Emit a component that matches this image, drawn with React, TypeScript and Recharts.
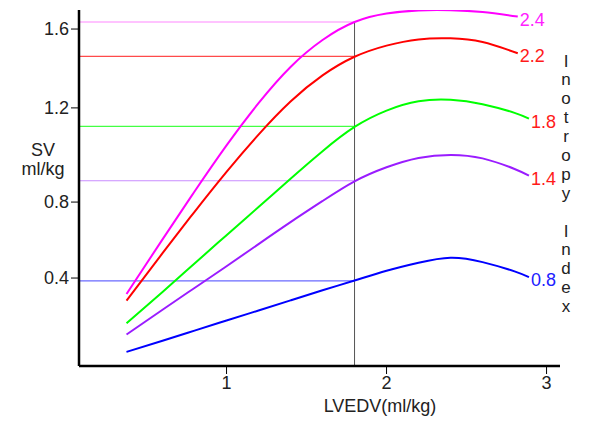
import { LineChart, Line, XAxis, YAxis, ReferenceLine } from 'recharts';

// inotropy index of each curve, lowest first
const inotropy = ['0.8', '1.4', '1.8', '2.2', '2.4'];
const curveColors = ['#0000ff', '#9a1cff', '#00ff00', '#ff0000', '#ff00ff'];
const guideColors = ['#6a6aff', '#c98cff', '#44ff44', '#ff4a4a', '#ff88ff'];
const labelColors = ['#2020ff', '#ff1a1a', '#ff1a1a', '#ff1a1a', '#ff22ff'];

// LVEDV samples (ml/kg)
const lvedvLong = [0.375, 0.6, 0.8, 1.0, 1.2, 1.4, 1.6, 1.8, 2.0, 2.2, 2.4, 2.6, 2.8, 2.89];
const lvedvShort = [0.375, 0.6, 0.8, 1.0, 1.2, 1.4, 1.6, 1.8, 2.0, 2.2, 2.4, 2.6, 2.82];

// SV (ml/kg) per curve
const sv08 = [0.048, 0.102, 0.151, 0.2, 0.248, 0.297, 0.346, 0.393, 0.44, 0.479, 0.503, 0.482, 0.437, 0.409];
const sv14 = [0.132, 0.252, 0.357, 0.462, 0.569, 0.675, 0.777, 0.872, 0.94, 0.985, 1.0, 0.983, 0.932, 0.9];
const sv18 = [0.186, 0.338, 0.475, 0.612, 0.748, 0.885, 1.018, 1.135, 1.214, 1.259, 1.266, 1.245, 1.203, 1.175];
const sv22 = [0.296, 0.525, 0.725, 0.918, 1.098, 1.258, 1.384, 1.474, 1.528, 1.558, 1.563, 1.545, 1.491];
const sv24 = [0.328, 0.592, 0.823, 1.046, 1.25, 1.425, 1.555, 1.642, 1.683, 1.698, 1.699, 1.69, 1.668];

// SV where each curve crosses LVEDV = 1.8
const svAtMark = [0.391, 0.875, 1.138, 1.476, 1.642];
const lvedvMark = 1.8;

const xDomain = [0.078, 3.084];
const yDomain = [-0.02, 1.7];
const xTicks = [1, 2, 3];
// the printed y scale is uneven; ticks sit where the labels are drawn
const yTickAt = [0.405, 0.772, 1.227, 1.608];
const yTickLabels = ['0.4', '0.8', '1.2', '1.6'];

const axisLabel = 'LVEDV(ml/kg)';
const yTitle = ['SV', 'ml/kg'];
const sideTitle = ['I', 'n', 'o', 't', 'r', 'o', 'p', 'y', '', 'I', 'n', 'd', 'e', 'x'];

const font = 'Arial, "Liberation Sans", sans-serif';

const series = [sv08, sv14, sv18, sv22, sv24].map((vals) => {
  const xs = vals.length === lvedvLong.length ? lvedvLong : lvedvShort;
  return vals.map((y, i) => ({ x: xs[i], y }));
});

function endLabel(idx: number, count: number) {
  return (props: any) => {
    if (props.index !== count - 1) return null;
    return (
      <text
        x={props.x + 2}
        y={props.y + 3}
        dominantBaseline="central"
        fontSize={18}
        fontFamily={font}
        fill={labelColors[idx]}
      >
        {inotropy[idx]}
      </text>
    );
  };
}

export default function App() {
  return (
    <div style={{ position: 'absolute', left: 0, top: 0, width: 600, height: 428, background: '#fff' }}>
      <LineChart
        width={600}
        height={428}
        margin={{ top: 10, right: 40, bottom: 0, left: 0 }}
      >
        <XAxis
          type="number"
          dataKey="x"
          domain={xDomain}
          ticks={xTicks}
          allowDataOverflow
          height={62}
          tickSize={8}
          axisLine={{ stroke: '#000', strokeWidth: 2.5 }}
          tickLine={{ stroke: '#000', strokeWidth: 1 }}
          tick={{ fontSize: 18, fill: '#222', fontFamily: font }}
        />
        <YAxis
          type="number"
          domain={yDomain}
          ticks={yTickAt}
          allowDataOverflow
          width={79}
          tickSize={8}
          axisLine={{ stroke: '#000', strokeWidth: 2.5 }}
          tickLine={{ stroke: '#000', strokeWidth: 1 }}
          tick={{ fontSize: 18, fill: '#222', fontFamily: font }}
          tickFormatter={(v) => yTickLabels[yTickAt.indexOf(v)] ?? ''}
        />

        {svAtMark.map((y, i) => (
          <ReferenceLine
            key={'g' + i}
            segment={[{ x: xDomain[0], y }, { x: lvedvMark, y }]}
            stroke={guideColors[i]}
            strokeWidth={1.2}
          />
        ))}
        <ReferenceLine
          segment={[{ x: lvedvMark, y: yDomain[0] }, { x: lvedvMark, y: svAtMark[4] }]}
          stroke="#555"
          strokeWidth={1}
        />

        {series.map((d, i) => (
          <Line
            key={inotropy[i]}
            data={d}
            dataKey="y"
            type="natural"
            stroke={curveColors[i]}
            strokeWidth={2}
            dot={false}
            label={endLabel(i, d.length)}
            isAnimationActive={false}
          />
        ))}
      </LineChart>

      <div
        style={{
          position: 'absolute', left: 280, top: 396, width: 200, textAlign: 'center',
          fontFamily: font, fontSize: 18, lineHeight: '20px', color: '#222',
        }}
      >
        {axisLabel}
      </div>
      <div
        style={{
          position: 'absolute', left: 0, top: 140.5, width: 86, textAlign: 'center',
          fontFamily: font, fontSize: 18, lineHeight: '19px', color: '#222',
        }}
      >
        {yTitle.map((t) => (
          <div key={t}>{t}</div>
        ))}
      </div>
      <div
        style={{
          position: 'absolute', left: 556, top: 52.5, width: 20, textAlign: 'center',
          fontFamily: font, fontSize: 17, lineHeight: '18.9px', color: '#222',
        }}
      >
        {sideTitle.map((c, i) => (
          <div key={i} style={{ height: 18.9 }}>{c}</div>
        ))}
      </div>
    </div>
  );
}
